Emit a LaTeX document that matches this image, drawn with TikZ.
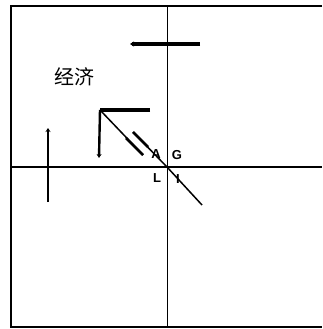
\documentclass[tikz,border=0pt]{standalone}
\usepackage{fontspec}
\newfontfamily\cjk{Noto Sans CJK SC}
\setsansfont{Liberation Sans}
\usetikzlibrary{arrows.meta}
\tikzset{
  axisline/.style={line width=1.6pt,black},
  vaxis/.style={line width=0.9pt,black},
  framel/.style={line width=1.5pt,black},
  thickbar/.style={line width=3.2pt,black},
  midbar/.style={line width=2.4pt,black},
  diag/.style={line width=1.5pt,black},
  diagthick/.style={line width=2.6pt,black},
  lab/.style={font=\sffamily\bfseries\fontsize{13}{13}\selectfont,inner sep=0pt},
  tipA/.style={-{Stealth[length=4pt,width=5pt]}}
}
\begin{document}
\begin{tikzpicture}[x=1pt,y=-1pt]
\useasboundingbox (0,0) rectangle (322,329);
% frame
\coordinate (tl) at (11,6);
\coordinate (tr) at (322,6);
\coordinate (bl) at (11,327);
\coordinate (br) at (322,327);
\draw[framel] (tr) -- (tl) -- (bl) -- (br);
% axes
\coordinate (O) at (167,167);
\coordinate (vt) at (167,6);
\coordinate (vb) at (167,327);
\coordinate (hl) at (11,167);
\coordinate (hr) at (322,167);
\draw[vaxis] (vt) -- (vb);
\draw[axisline] (hl) -- (hr);
% top bar
\coordinate (tb1) at (200,44);
\coordinate (tb2) at (130,44);
\draw[thickbar,tipA] (tb1) -- (tb2);
% left vertical arrow
\coordinate (lv1) at (48,202);
\coordinate (lv2) at (48,128);
\draw[midbar,tipA] (lv1) -- (lv2);
% L shape
\coordinate (C) at (100,110);
\coordinate (Ch) at (150,110);
\coordinate (Cv) at (99,158);
\draw[thickbar] (Ch) -- (C);
\draw[midbar,tipA] (C) -- (Cv);
% diagonals
\coordinate (d1e) at (143,155);
\coordinate (d1m) at (126,138);
\draw[diag] (C) -- (d1e);
\draw[diagthick] (d1m) -- (d1e);
\coordinate (d2s) at (133,132);
\coordinate (d2m) at (148,147);
\draw[diag] (d2s) -- (O);
\draw[diagthick] (d2s) -- (d2m);
\coordinate (d3e) at (202,205);
\draw[diag] (O) -- (d3e);
% text
\node[font=\cjk\fontsize{20}{20}\selectfont,inner sep=0pt] (econ) at (74,77) {经济};
\node[lab] (A) at (156,154) {A};
\node[lab] (G) at (177,155) {G};
\node[lab] (L) at (157,178) {L};
\node[lab] (I) at (178,179) {I};
\end{tikzpicture}
\end{document}
